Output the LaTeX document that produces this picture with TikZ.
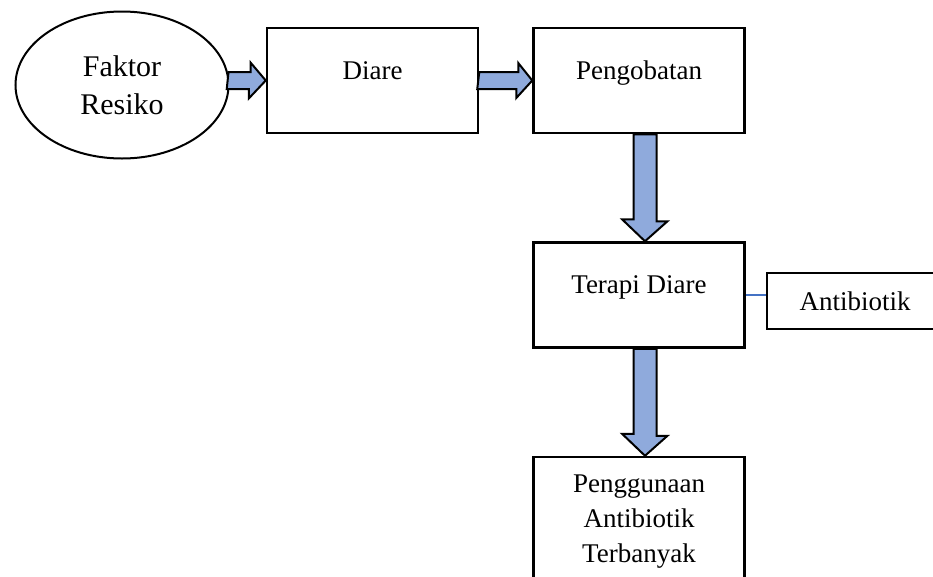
\documentclass[tikz,border=0pt]{standalone}
\usepackage{fontspec}
\setmainfont{Liberation Serif}
\usetikzlibrary{shapes.geometric,calc}

\definecolor{arrowblue}{HTML}{8FAADC}
\definecolor{lineblue}{HTML}{4472C4}

\begin{document}
\begin{tikzpicture}[x=1pt,y=-1pt,
    txt/.style={font=\fontsize{27}{35}\selectfont, align=center},
    box/.style={txt, draw, line width=2.5pt, minimum width=211pt, minimum height=105pt,
                text height=18pt, text depth=21pt},
    fatarrow/.style={draw, fill=arrowblue, line width=2pt, line join=miter}]
  \useasboundingbox (0,0) rectangle (933,576);
  \clip (0,0) rectangle (933,576);

  % Top row
  \node[txt, ellipse, draw, line width=2pt, minimum width=213pt, minimum height=147pt,
        inner sep=0pt, font=\fontsize{30}{38}\selectfont] (faktor) at (122,85) {Faktor\\Resiko};
  \node[box] (diare) at (372.5,80.5) {Diare};
  \node[box] (pengobatan) at (639,80.5) {Pengobatan};

  % Middle row
  \node[box] (terapi) at (639,295) {Terapi Diare};
  \node[txt, draw, line width=2.5pt, minimum width=176pt, minimum height=56pt] (antibiotik) at (855,301) {Antibiotik};

  % Bottom box
  \node[txt, draw, line width=2.5pt, minimum width=211pt, minimum height=130pt] (penggunaan) at (639,522)
    {Penggunaan\\Antibiotik\\Terbanyak};

  % Block arrows
  \draw[fatarrow] ($(faktor.east |- diare.west)+(-1,-8.5)$) -- ++(22,0) -- ++(0,-9.5)
    -- (diare.west) -- ++(-17,18) -- ++(0,-9.5) -- ++(-22,0) -- cycle;
  \draw[fatarrow] ($(diare.east)+(0,-8.5)$) -- ++(39,0) -- ++(0,-9)
    -- (pengobatan.west) -- ++(-16,17.5) -- ++(0,-9) -- ++(-39,0) -- cycle;
  \draw[fatarrow] ($(pengobatan.south)+(-5.5,0)$) -- ++(23,0) -- ++(0,87) -- ++(11,0)
    -- ($(terapi.north)+(6,0)$) -- ++(-23,-22) -- ++(11.5,0) -- cycle;
  \draw[fatarrow] ($(terapi.south)+(-5.5,0)$) -- ++(23,0) -- ++(0,87) -- ++(11,0)
    -- ($(penggunaan.north)+(6,0)$) -- ++(-23,-22) -- ++(11.5,0) -- cycle;

  % Side link
  \draw[lineblue, line width=1.5pt] (terapi.east) -- (terapi.east -| antibiotik.west);
\end{tikzpicture}
\end{document}
